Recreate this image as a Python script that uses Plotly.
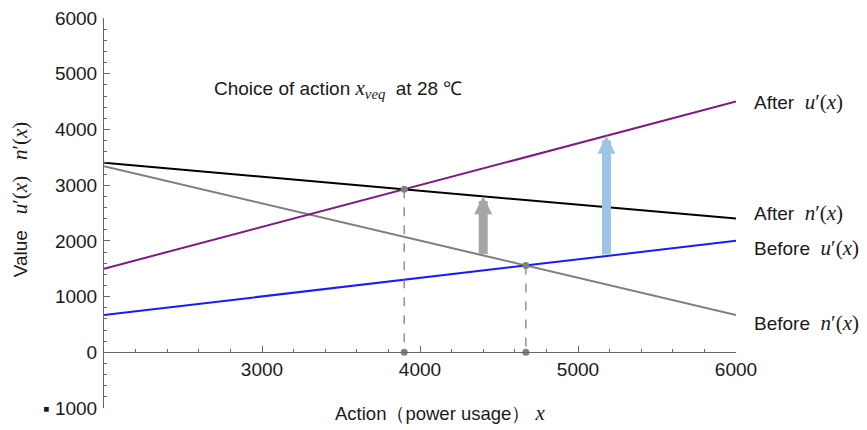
import numpy as np
import plotly.graph_objects as go

# ---- data ----
x_ends = [2000, 6000]
after_u = [1500, 4500]     # After u'(x)  (purple)
after_n = [3400, 2400]     # After n'(x)  (black)
before_u = [670, 2000]     # Before u'(x) (blue)
before_n = [3340, 670]     # Before n'(x) (gray)
veq_x = [3900, 4670]       # equilibrium choices (after, before)
arrow_n_x = 4400           # gray arrow position
arrow_u_x = 5180           # blue arrow position
x_tickvals = [3000, 4000, 5000, 6000]
x_ticktext = ["3000", "4000", "5000", "6000"]
y_tickvals = [-1000, 0, 1000, 2000, 3000, 4000, 5000, 6000]
y_ticktext = ["\u25aa 1000", "0", "1000", "2000", "3000", "4000", "5000", "6000"]

SANS = "Liberation Sans, Arial, sans-serif"
NB = "\u00a0"

def m(s, size=21):
    return f"<span style='font-family:Liberation Serif;font-size:{size}px'>{s}</span>"

fig = go.Figure()

series = [
    (before_n, "#7f7f7f"),
    (before_u, "#1a1aff"),
    (after_n, "#000000"),
    (after_u, "#7f1a80"),
]
for ys, col in series:
    fig.add_trace(go.Scatter(x=x_ends, y=ys, mode="lines",
                             line=dict(color=col, width=2), showlegend=False,
                             hoverinfo="skip"))

# equilibrium dashed drops
veq_y = [float(np.interp(veq_x[0], x_ends, after_n)),
         float(np.interp(veq_x[1], x_ends, before_n))]
for xv, yv in zip(veq_x, veq_y):
    fig.add_trace(go.Scatter(x=[xv, xv], y=[yv, 0], mode="lines+markers",
                             line=dict(color="#808080", width=1.3, dash="dash"),
                             marker=dict(color="#808080", size=7),
                             showlegend=False, hoverinfo="skip"))

annotations = []
# arrows
annotations.append(dict(
    x=arrow_n_x, y=float(np.interp(arrow_n_x, x_ends, after_n)),
    ax=arrow_n_x, ay=float(np.interp(arrow_n_x, x_ends, before_n)),
    xref="x", yref="y", axref="x", ayref="y", text="", showarrow=True,
    arrowhead=2, arrowsize=0.4, arrowwidth=9, arrowcolor="#a6a6a6"))
annotations.append(dict(
    x=arrow_u_x, y=float(np.interp(arrow_u_x, x_ends, after_u)),
    ax=arrow_u_x, ay=float(np.interp(arrow_u_x, x_ends, before_u)),
    xref="x", yref="y", axref="x", ayref="y", text="", showarrow=True,
    arrowhead=2, arrowsize=0.4, arrowwidth=9, arrowcolor="#9dc3e6"))

# right-hand labels
labels = [
    ("After" + NB * 2 + m("<i>u</i>′(<i>x</i>)"), 4500),
    ("After" + NB * 2 + m("<i>n</i>′(<i>x</i>)"), 2500),
    ("Before" + NB * 2 + m("<i>u</i>′(<i>x</i>)"), 1880),
    ("Before" + NB * 2 + m("<i>n</i>′(<i>x</i>)"), 520),
]
for txt, yv in labels:
    annotations.append(dict(x=1.025, y=yv, xref="paper", yref="y", text=txt,
                            showarrow=False, xanchor="left", yanchor="middle",
                            font=dict(family=SANS, size=19, color="#1a1a1a")))

# inner title
annotations.append(dict(
    x=0.171, y=0.818, xref="paper", yref="paper",
    text="Choice of action " + m("<i>x</i><sub><i>veq</i></sub>", 21) + NB * 2 + "at 28 ℃",
    showarrow=False, xanchor="left", yanchor="middle",
    font=dict(family=SANS, size=19, color="#1a1a1a")))

# axis titles
annotations.append(dict(
    x=0.362, y=-0.012, xref="paper", yref="paper",
    text="Action（power usage）" + NB + m("<i>x</i>"),
    showarrow=False, xanchor="left", yanchor="middle",
    font=dict(family=SANS, size=18.5, color="#1a1a1a")))
annotations.append(dict(
    x=-0.133, y=0.535, xref="paper", yref="paper",
    text="Value" + NB * 3 + m("<i>u</i>′(<i>x</i>)" + NB * 3 + "<i>n</i>′(<i>x</i>)"),
    showarrow=False, textangle=-90, xanchor="center", yanchor="middle",
    font=dict(family=SANS, size=19, color="#1a1a1a")))

# the page body adds an 8px offset; margins compensate so the plot box
# lands at x 104..736, y 17..407 in the window
fig.update_layout(
    width=867, height=430,
    margin=dict(l=96, r=139, t=10, b=30, autoexpand=False),
    paper_bgcolor="white", plot_bgcolor="white",
    font=dict(family=SANS, size=19, color="#1a1a1a"),
    annotations=annotations,
    xaxis=dict(range=[2000, 6000], anchor="free", position=1 / 7,
               automargin=False,
               showline=True, linecolor="#666666", linewidth=1,
               showgrid=False, zeroline=False,
               tickmode="array", tickvals=x_tickvals, ticktext=x_ticktext,
               ticks="inside", ticklen=6, tickcolor="#666666",
               ticklabelstandoff=0, ticklabeloverflow="allow",
               minor=dict(dtick=200, tick0=2000, ticks="inside", ticklen=3,
                          tickcolor="#666666", showgrid=False),
               tickfont=dict(size=19, color="#1a1a1a")),
    yaxis=dict(range=[-1000, 6000], domain=[0, 1], automargin=False,
               showline=True, linecolor="#666666", linewidth=1,
               showgrid=False, zeroline=False,
               tickmode="array", tickvals=y_tickvals, ticktext=y_ticktext,
               ticks="inside", ticklen=6, tickcolor="#666666",
               ticklabelstandoff=2, ticklabeloverflow="allow",
               minor=dict(dtick=200, tick0=0, ticks="inside", ticklen=3,
                          tickcolor="#666666", showgrid=False),
               tickfont=dict(size=19, color="#1a1a1a")),
)

fig.write_html("out.html")
